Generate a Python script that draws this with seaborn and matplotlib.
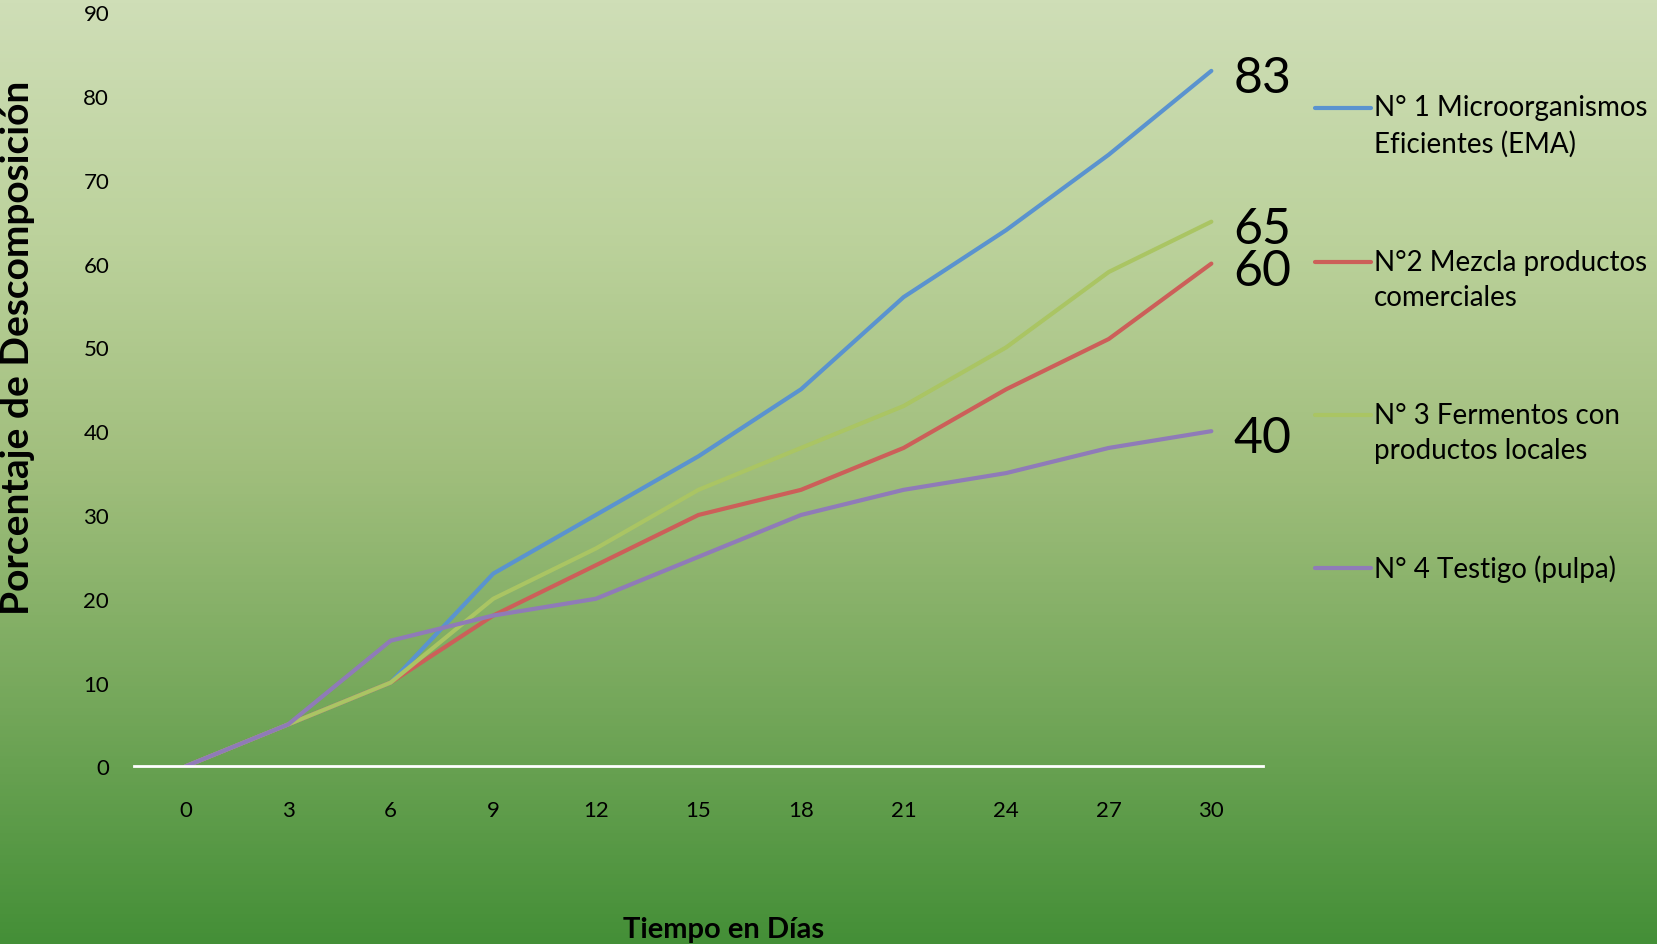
import numpy as np
import pandas as pd
import seaborn as sns
import matplotlib.pyplot as plt
from matplotlib.colors import LinearSegmentedColormap

# datos
dias = [0, 3, 6, 9, 12, 15, 18, 21, 24, 27, 30]
ema = [0, 5, 10, 23, 30, 37, 45, 56, 64, 73, 83]
comerciales = [0, 5, 10, 18, 24, 30, 33, 38, 45, 51, 60]
locales = [0, 5, 10, 20, 26, 33, 38, 43, 50, 59, 65]
testigo = [0, 5, 15, 18, 20, 25, 30, 33, 35, 38, 40]

nombres = ["N° 1 Microorganismos\nEficientes (EMA)",
           "N°2 Mezcla productos\ncomerciales",
           "N° 3 Fermentos con\nproductos locales",
           "N° 4 Testigo (pulpa)"]
colores = ["#5a93cf", "#cc5f59", "#aac563", "#8f7bb8"]

df = pd.DataFrame({"Dia": dias * 4,
                   "Valor": ema + comerciales + locales + testigo,
                   "Tratamiento": sum([[n] * len(dias) for n in nombres], [])})

sns.set_style("white")
plt.rcParams['font.family'] = ['Lato', 'DejaVu Sans']
plt.rcParams['text.color'] = 'black'
plt.rcParams['axes.labelcolor'] = 'black'
plt.rcParams['xtick.color'] = 'black'
plt.rcParams['ytick.color'] = 'black'

fig = plt.figure(figsize=(16.57, 9.45), dpi=100)

# fondo degradado
bg = fig.add_axes([0, 0, 1, 1], zorder=-1)
cmap = LinearSegmentedColormap.from_list(
    "fondo", [(0, "#cfdeb7"), (0.25, "#bcd29c"), (0.5, "#a0be7c"),
              (0.75, "#74a75a"), (1, "#448f37")])
bg.imshow(np.linspace(0, 1, 256).reshape(-1, 1), aspect="auto", cmap=cmap,
          extent=[0, 1, 0, 1])
bg.axis("off")

ax = fig.add_axes([0.081, 0.188, 0.681, 0.798])
ax.patch.set_alpha(0)

sns.lineplot(data=df, x="Dia", y="Valor", hue="Tratamiento", hue_order=nombres,
             palette=colores, linewidth=3, ax=ax, legend=True)

# etiquetas del último valor
for serie in [ema, locales, comerciales, testigo]:
    ax.annotate(str(serie[-1]), xy=(dias[-1], serie[-1]), xytext=(16, -5),
                textcoords="offset points", fontsize=36, va="center", ha="left")

ax.set_xlim(-1.5, 31.5)
ax.set_ylim(0, 90)
ax.set_xticks(dias)
ax.set_yticks(range(0, 91, 10))
ax.tick_params(axis="both", length=0, labelsize=16)
ax.tick_params(axis="x", pad=24)
ax.tick_params(axis="y", pad=18)

for s in ["top", "right", "left"]:
    ax.spines[s].set_visible(False)
ax.spines["bottom"].set_color("white")
ax.spines["bottom"].set_linewidth(2)

ax.set_ylabel("Porcentaje de Descomposición", fontsize=28, fontweight="bold")
ax.yaxis.set_label_coords(-0.103, 0.556)
ax.yaxis.label.set_va("center")
ax.set_xlabel("Tiempo en Días", fontsize=21, fontweight="bold")
ax.xaxis.set_label_coords(0.522, -0.216)
ax.xaxis.label.set_va("center")

handles, labels = ax.get_legend_handles_labels()
leg = ax.legend(handles, labels, loc="upper left", bbox_to_anchor=(0.787, 0.911),
                bbox_transform=fig.transFigure, frameon=False, fontsize=20,
                handlelength=2.0, handletextpad=0.1, labelspacing=3.3,
                borderaxespad=0)
for t in leg.get_texts():
    t.set_linespacing(1.45)
# la línea de la leyenda va a la altura de la primera línea del texto
for i, ln in enumerate(leg.get_lines()):
    if "\n" in labels[i]:
        ln.set_ydata(np.asarray(ln.get_ydata()) + 13.3)

plt.savefig("out.png", dpi=100)
